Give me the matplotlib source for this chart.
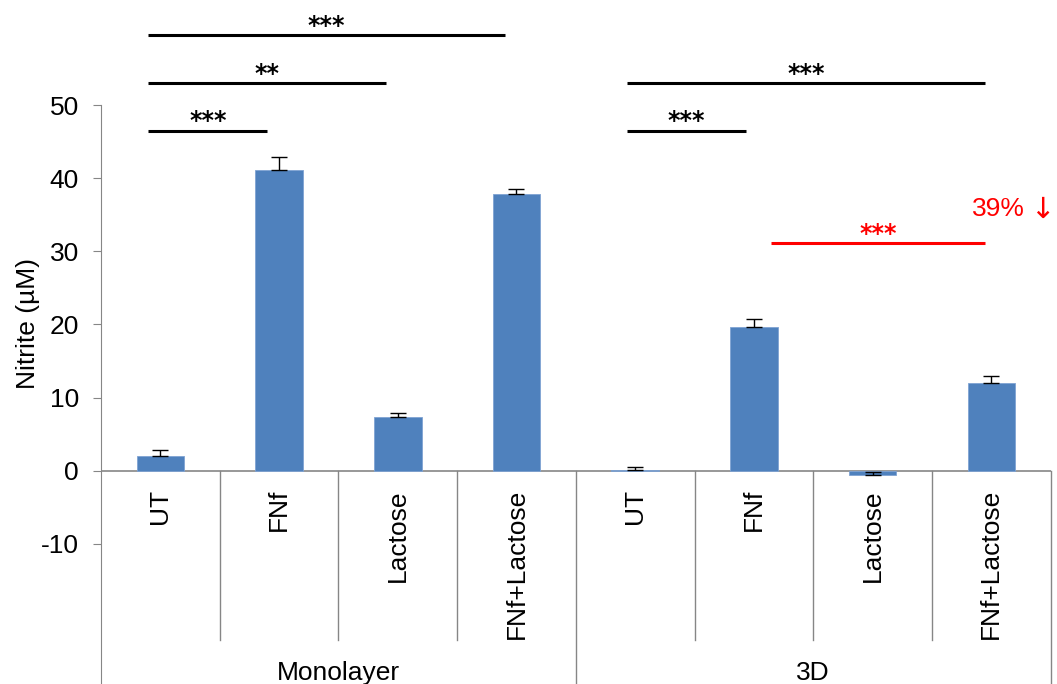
import matplotlib
matplotlib.use("Agg")
import matplotlib.pyplot as plt
import numpy as np

plt.rcParams["font.family"] = ["Liberation Sans", "DejaVu Sans"]
plt.rcParams["axes.unicode_minus"] = False

# data
groups = ["Monolayer", "3D"]
treatments = ["UT", "FNf", "Lactose", "FNf+Lactose"]
nitrite = [2.0, 41.1, 7.4, 37.8, 0.05, 19.6, -0.6, 12.0]
nitrite_err = [0.8, 1.8, 0.55, 0.7, 0.5, 1.2, 0.4, 0.9]

# significance brackets: x in category units, y in µM
sig_x0 = [-0.1, -0.1, -0.1, 3.93, 3.93, 5.14]
sig_x1 = [0.9, 1.9, 2.9, 4.93, 6.95, 6.95]
sig_y = [46.5, 53.0, 59.6, 46.5, 53.0, 31.1]
sig_label = ["***", "**", "***", "***", "***", "***"]
sig_color = ["black", "black", "black", "black", "black", "red"]

bar_color = "#4F81BD"
axis_gray = "#868686"

fig = plt.figure(figsize=(10.57, 6.84), dpi=100)
ax = fig.add_axes([101 / 1057, 0.0, (1050.7 - 101) / 1057, 1.0])

n = len(nitrite)
x = np.arange(n)
ylo, yhi = -29.16, 64.36
ax.set_xlim(-0.5, n - 0.5)
ax.set_ylim(ylo, yhi)

ax.bar(x, nitrite, width=0.4, color=bar_color, edgecolor="#7FA3D3", linewidth=0.6, zorder=2)
ax.errorbar(x, nitrite, yerr=[np.zeros(n), nitrite_err], fmt="none",
            ecolor="black", elinewidth=1.0, capsize=6, capthick=1.0, zorder=3)

# axes styling
for side in ["top", "right", "bottom"]:
    ax.spines[side].set_visible(False)
ax.spines["left"].set_color(axis_gray)
ax.spines["left"].set_bounds(ylo, 50)
ax.set_yticks(np.arange(-10, 51, 10))
ax.tick_params(axis="y", direction="out", length=6, color=axis_gray,
               labelsize=19, pad=10)
ax.set_xticks([])

# zero line and category dividers
ax.axhline(0, color=axis_gray, linewidth=1.2, zorder=1)
div_bottom = -23.15
for i in range(1, n + 1):
    bottom = ylo if i % len(treatments) == 0 else div_bottom
    ax.plot([i - 0.5, i - 0.5], [0, bottom], color=axis_gray, lw=1.0, clip_on=False)

# category labels
for i in range(n):
    ax.text(x[i], -2.5, treatments[i % len(treatments)], rotation=90,
            ha="center", va="top", fontsize=19)
for g, name in enumerate(groups):
    center = g * len(treatments) + (len(treatments) - 1) / 2
    ax.text(center, -27.6, name, ha="center", va="center", fontsize=19)

fig.text(28 / 1057, 1 - 324 / 684, "Nitrite (µM)", rotation=90,
         ha="center", va="center", fontsize=19)

# significance brackets
for x0, x1, y, lab, col in zip(sig_x0, sig_x1, sig_y, sig_label, sig_color):
    ax.plot([x0, x1], [y, y], color=col, lw=2.2, solid_capstyle="butt")
    ax.text((x0 + x1) / 2, y + 0.3, lab, ha="center", va="baseline",
            fontsize=17, fontweight="bold", color=col, family="DejaVu Sans")

ax.text(7.28, 35.8, "39%", ha="right", va="center", fontsize=19,
        color="red", clip_on=False)
ax.text(7.33, 35.6, "\u2193", ha="left", va="center", fontsize=21,
        color="red", family="DejaVu Sans", clip_on=False)

fig.savefig("out.png", dpi=100)
